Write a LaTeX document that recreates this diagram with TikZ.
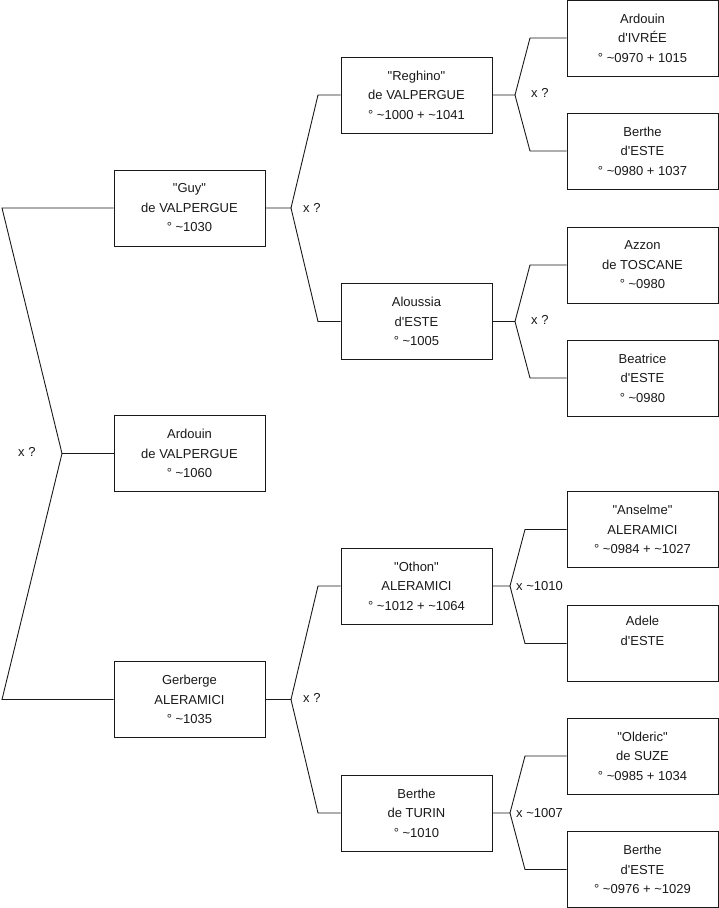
\documentclass[tikz,border=0pt]{standalone}
\usepackage{fontspec}
\setmainfont{Liberation Sans}
\newcommand{\qd}{\textquotedbl}
\newcommand{\qs}{\textquotesingle}
\begin{document}
\begin{tikzpicture}[x=1pt,y=-1pt,
  person/.style={draw=black!90, line width=0.9pt, minimum width=151pt, minimum height=76pt,
    inner sep=0pt, align=center, font=\fontsize{13}{19.5}\selectfont, text=black!90},
  conn/.style={draw=black!90, line width=0.9pt},
  lbl/.style={anchor=west, inner sep=0pt, font=\fontsize{13}{16}\selectfont, text=black!90}]
\useasboundingbox (0,0) rectangle (719,908);
% column 1
\node[person] (guy) at (189.5,208) {\qd Guy\qd\\de VALPERGUE\\° \textasciitilde 1030};
\node[person] (ardv) at (189.5,453.5) {Ardouin\\de VALPERGUE\\° \textasciitilde 1060};
\node[person] (gerb) at (189.5,699.5) {Gerberge\\ALERAMICI\\° \textasciitilde 1035};
% column 2
\node[person] (regh) at (416.5,95) {\qd Reghino\qd\\de VALPERGUE\\° \textasciitilde 1000 + \textasciitilde 1041};
\node[person] (alou) at (416.5,321.5) {Aloussia\\d\qs ESTE\\° \textasciitilde 1005};
\node[person] (otho) at (416.5,586) {\qd Othon\qd\\ALERAMICI\\° \textasciitilde 1012 + \textasciitilde 1064};
\node[person] (turi) at (416.5,813) {Berthe\\de TURIN\\° \textasciitilde 1010};
% column 3
\node[person] (ivre) at (642.5,38) {Ardouin\\d\qs IVRÉE\\° \textasciitilde 0970 + 1015};
\node[person] (bes1) at (642.5,151) {Berthe\\d\qs ESTE\\° \textasciitilde 0980 + 1037};
\node[person] (azzo) at (642.5,265) {Azzon\\de TOSCANE\\° \textasciitilde 0980};
\node[person] (beat) at (642.5,378) {Beatrice\\d\qs ESTE\\° \textasciitilde 0980};
\node[person] (anse) at (642.5,529.5) {\qd Anselme\qd\\ALERAMICI\\° \textasciitilde 0984 + \textasciitilde 1027};
\node[person] (adel) at (642.5,643.5) {Adele\\d\qs ESTE\\\strut};
\node[person] (olde) at (642.5,756) {\qd Olderic\qd\\de SUZE\\° \textasciitilde 0985 + 1034};
\node[person] (bes2) at (642.5,869.5) {Berthe\\d\qs ESTE\\° \textasciitilde 0976 + \textasciitilde 1029};
% root fork
\coordinate (r0) at (2,208);
\coordinate (r1) at (62,453.5);
\coordinate (r2) at (2,699.5);
\draw[conn] (guy.west) -- (r0) -- (r1) -- (r2) -- (gerb.west);
\draw[conn] (r1) -- (ardv.west);
\node[lbl] (lr) at (18,452) {x ?};
% Guy fork
\coordinate (g0) at (291,208);
\draw[conn] (guy.east) -- (g0) -- (318,95) -- (regh.west);
\draw[conn] (g0) -- (318,321.5) -- (alou.west);
\node[lbl] (lg) at (303,208) {x ?};
% Gerberge fork
\coordinate (h0) at (291,699.5);
\draw[conn] (gerb.east) -- (h0) -- (318,586) -- (otho.west);
\draw[conn] (h0) -- (318,813) -- (turi.west);
\node[lbl] (lh) at (303,698) {x ?};
% Reghino fork
\coordinate (a0) at (515,95);
\draw[conn] (regh.east) -- (a0) -- (530,38) -- (ivre.west);
\draw[conn] (a0) -- (530,151) -- (bes1.west);
\node[lbl] (la) at (531,93) {x ?};
% Aloussia fork
\coordinate (b0) at (515,321.5);
\draw[conn] (alou.east) -- (b0) -- (530,265) -- (azzo.west);
\draw[conn] (b0) -- (530,378) -- (beat.west);
\node[lbl] (lb) at (531,320) {x ?};
% Othon fork
\coordinate (c0) at (510,586);
\draw[conn] (otho.east) -- (c0) -- (525,529.5) -- (anse.west);
\draw[conn] (c0) -- (525,643.5) -- (adel.west);
\node[lbl] (lc) at (516,586) {x \textasciitilde 1010};
% Turin fork
\coordinate (d0) at (510,813);
\draw[conn] (turi.east) -- (d0) -- (525,756) -- (olde.west);
\draw[conn] (d0) -- (525,869.5) -- (bes2.west);
\node[lbl] (ld) at (516,813) {x \textasciitilde 1007};
\end{tikzpicture}
\end{document}
